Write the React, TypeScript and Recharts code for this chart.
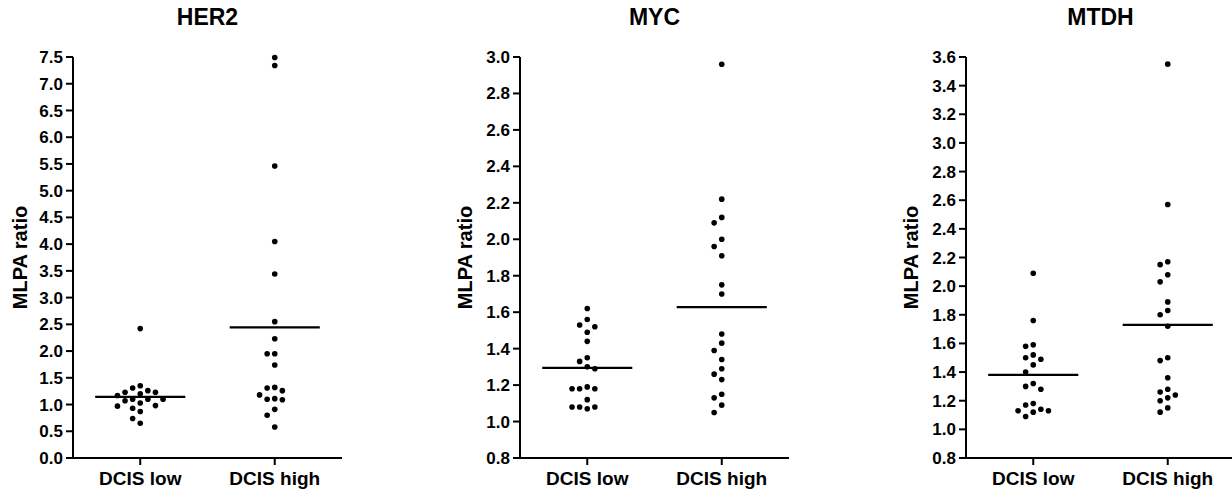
import React from 'react'
import { ScatterChart, Scatter, XAxis, YAxis, ReferenceLine } from 'recharts'

const categories = ['DCIS low', 'DCIS high']

const her2Low = [2.42, 1.35, 1.26, 1.23, 1.2, 1.23, 1.31, 1.17, 1.1, 1.07, 1.1, 1.03, 1.1, 0.98, 0.93, 0.97, 0.87, 0.74, 0.65]
const her2High = [7.49, 7.34, 5.46, 4.05, 3.44, 2.55, 2.23, 1.95, 1.95, 1.74, 1.31, 1.26, 1.32, 1.18, 1.11, 1.1, 1.09, 0.91, 0.8, 0.58]
const her2Ticks = [0, 0.5, 1, 1.5, 2, 2.5, 3, 3.5, 4, 4.5, 5, 5.5, 6, 6.5, 7, 7.5]

const mycLow = [1.62, 1.56, 1.53, 1.52, 1.49, 1.44, 1.35, 1.33, 1.3, 1.29, 1.18, 1.18, 1.18, 1.19, 1.12, 1.08, 1.07, 1.08, 1.08]
const mycHigh = [2.96, 2.22, 2.12, 2.09, 2.0, 1.96, 1.91, 1.75, 1.7, 1.48, 1.43, 1.39, 1.34, 1.29, 1.26, 1.23, 1.15, 1.13, 1.09, 1.05]
const mycTicks = [0.8, 1.0, 1.2, 1.4, 1.6, 1.8, 2.0, 2.2, 2.4, 2.6, 2.8, 3.0]

const mtdhLow = [2.09, 1.76, 1.59, 1.58, 1.52, 1.49, 1.5, 1.45, 1.4, 1.32, 1.3, 1.28, 1.18, 1.17, 1.14, 1.13, 1.09, 1.12, 1.13]
const mtdhHigh = [3.55, 2.57, 2.17, 2.15, 2.08, 2.03, 1.89, 1.83, 1.8, 1.72, 1.5, 1.48, 1.36, 1.28, 1.26, 1.24, 1.22, 1.2, 1.15, 1.12]
const mtdhTicks = [0.8, 1.0, 1.2, 1.4, 1.6, 1.8, 2.0, 2.2, 2.4, 2.6, 2.8, 3.0, 3.2, 3.4, 3.6]

const FONT = '"Liberation Sans", Arial, Helvetica, sans-serif'
const AXIS_W = 73
const PLOT_W = 269
const PLOT_TOP = 57
const PLOT_H = 401
const CHART_W = AXIS_W + PLOT_W + 10
const CHART_H = 491
const STEP_PX = 7.6
const GAP_PX = 8
const MEAN_HALF = 0.335

const mean = (v: number[]) => v.reduce((a, b) => a + b, 0) / v.length

// simple beeswarm: put each point in the nearest free column slot
const swarm = (values: number[], center: number, domain: number[]) => {
  const yPerPx = (domain[1] - domain[0]) / PLOT_H
  const xPerPx = 2 / PLOT_W
  const placed: { x: number; y: number; slot: number }[] = []
  const order = values.map((_, i) => i).sort((a, b) => values[b] - values[a])
  order.forEach((i) => {
    const v = values[i]
    for (let k = 0; k < 30; k++) {
      const slot = k === 0 ? 0 : k % 2 === 1 ? -Math.ceil(k / 2) : Math.ceil(k / 2)
      const clash = placed.some((p) => p.slot === slot && Math.abs(p.y - v) / yPerPx < GAP_PX)
      if (!clash) {
        placed.push({ slot, y: v, x: center + slot * STEP_PX * xPerPx })
        break
      }
    }
  })
  return placed
}

const Dot = (props: any) => <circle cx={props.cx} cy={props.cy} r={2.8} fill="#000" />

type PanelProps = {
  left: number
  title: string
  low: number[]
  high: number[]
  ticks: number[]
  labelGap: number
}

const Panel = ({ left, title, low, high, ticks, labelGap }: PanelProps) => {
  const domain = [ticks[0], ticks[ticks.length - 1]]
  const data = [...swarm(low, 0.5, domain), ...swarm(high, 1.5, domain)]
  const means = [mean(low), mean(high)]
  const labelX = AXIS_W - labelGap
  const labelY = PLOT_TOP + PLOT_H / 2
  return (
    <div style={{ position: 'absolute', left: left - AXIS_W, top: 0, width: CHART_W, height: CHART_H }}>
      <ScatterChart width={CHART_W} height={CHART_H} margin={{ top: PLOT_TOP, right: 10, bottom: 0, left: 0 }}>
        <XAxis
          type="number"
          dataKey="x"
          domain={[0, 2]}
          ticks={[0.5, 1.5]}
          interval={0}
          tickFormatter={(v: number) => categories[Math.round(v - 0.5)]}
          height={CHART_H - PLOT_TOP - PLOT_H}
          tickSize={7}
          tickMargin={7}
          axisLine={{ stroke: '#000', strokeWidth: 2 }}
          tickLine={{ stroke: '#000', strokeWidth: 2 }}
          tick={{ fill: '#000', fontSize: 19, fontWeight: 'bold', fontFamily: FONT }}
        />
        <YAxis
          type="number"
          dataKey="y"
          domain={domain}
          ticks={ticks}
          interval={0}
          width={AXIS_W}
          tickFormatter={(v: number) => v.toFixed(1)}
          tickSize={7}
          tickMargin={3}
          axisLine={{ stroke: '#000', strokeWidth: 2 }}
          tickLine={{ stroke: '#000', strokeWidth: 2 }}
          tick={{ fill: '#000', fontSize: 17, fontWeight: 'bold', fontFamily: FONT }}
        />
        <Scatter data={data} shape={Dot} isAnimationActive={false} />
        {means.map((m, i) => (
          <ReferenceLine
            key={i}
            segment={[
              { x: 0.5 + i - MEAN_HALF, y: m },
              { x: 0.5 + i + MEAN_HALF, y: m },
            ]}
            stroke="#000"
            strokeWidth={2.2}
            ifOverflow="visible"
          />
        ))}
      </ScatterChart>
      <svg
        width={CHART_W}
        height={CHART_H}
        style={{ position: 'absolute', left: 0, top: 0, pointerEvents: 'none' }}
      >
        <text
          x={AXIS_W + PLOT_W / 2}
          y={25}
          textAnchor="middle"
          fontSize={23}
          fontWeight="bold"
          fontFamily={FONT}
          fill="#000"
        >
          {title}
        </text>
        <text
          x={labelX}
          y={labelY}
          transform={`rotate(-90, ${labelX}, ${labelY})`}
          textAnchor="middle"
          dominantBaseline="central"
          fontSize={20}
          fontWeight="bold"
          fontFamily={FONT}
          fill="#000"
        >
          MLPA ratio
        </text>
      </svg>
    </div>
  )
}

export default function App() {
  return (
    <div
      style={{
        position: 'fixed',
        left: 0,
        top: 0,
        width: 1232,
        height: 491,
        overflow: 'hidden',
        background: '#fff',
      }}
    >
      <Panel left={73} title="HER2" low={her2Low} high={her2High} ticks={her2Ticks} labelGap={53} />
      <Panel left={520} title="MYC" low={mycLow} high={mycHigh} ticks={mycTicks} labelGap={55} />
      <Panel left={966} title="MTDH" low={mtdhLow} high={mtdhHigh} ticks={mtdhTicks} labelGap={55} />
    </div>
  )
}
